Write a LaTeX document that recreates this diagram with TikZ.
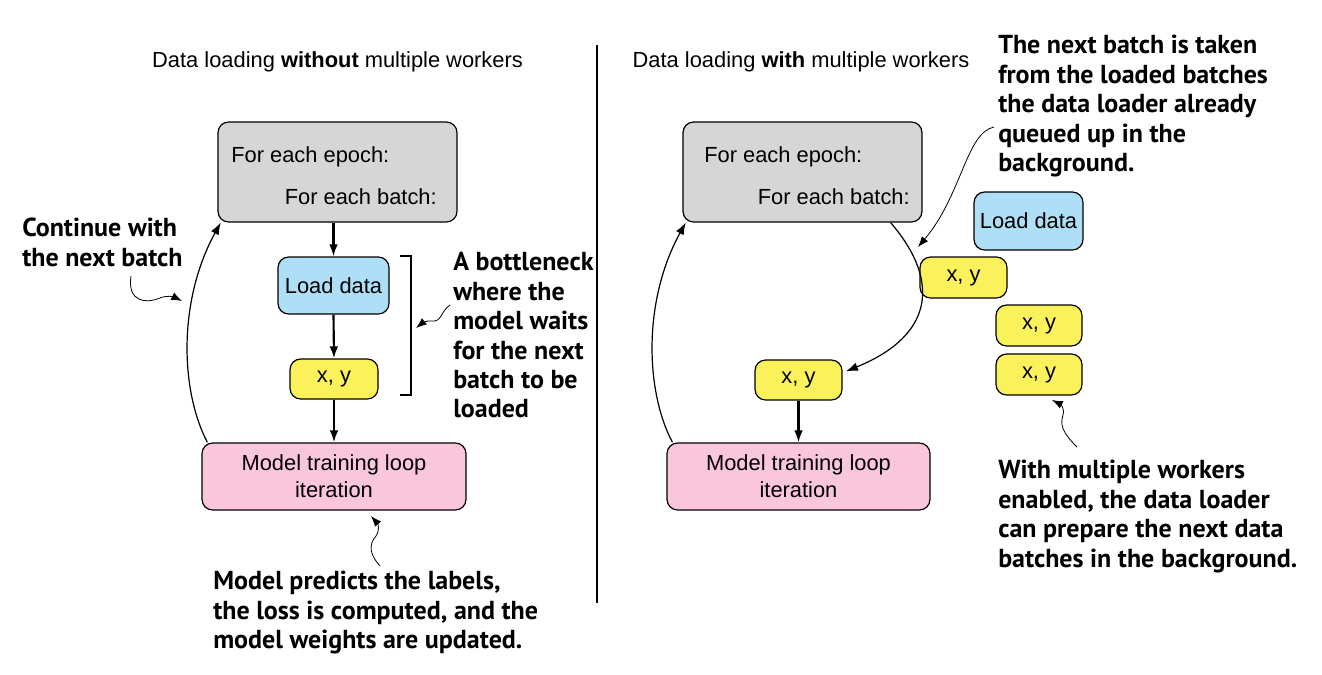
\documentclass[tikz,border=0pt]{standalone}
\usepackage{fontspec}
\setmainfont{Liberation Sans}
\newfontfamily\annotfont{PT Sans}
\usetikzlibrary{arrows.meta}
\definecolor{grayfill}{HTML}{D7D6D6}
\definecolor{bluefill}{HTML}{AEDFF7}
\definecolor{yelfill}{HTML}{FBF15B}
\definecolor{pinkfill}{HTML}{F9C6DC}
\begin{document}
\begin{tikzpicture}[x=0.75pt,y=-0.75pt,
  box/.style={draw=black, line width=0.9pt, rounded corners=8pt, inner sep=0pt, align=center,
    font=\fontsize{16.4}{20}\selectfont},
  lbl/.style={inner sep=0pt, font=\fontsize{16.4}{20}\selectfont},
  ann/.style={inner sep=0pt, align=left, anchor=north west,
    font=\annotfont\bfseries\fontsize{19.5}{22.1}\selectfont},
  mainarrow/.style={-{Latex[length=9pt,width=6.5pt]}, line width=1.6pt},
  looparrow/.style={-{Latex[length=9pt,width=6.5pt]}, line width=0.9pt},
  notearrow/.style={-{Latex[length=8pt,width=6pt]}, line width=0.6pt}]
\useasboundingbox (0,0) rectangle (1322,675);

% ---------- left panel ----------
\node[lbl] (t1) at (337.5,62) {Data loading \textbf{without} multiple workers};
\node[box, fill=grayfill, minimum width=179.25pt, minimum height=75pt] (g1) at (337.5,172) {};
\node[lbl, anchor=west] (g1a) at (231,157) {For each epoch:};
\node[lbl, anchor=east] (g1b) at (437,197) {For each batch:};
\node[box, fill=bluefill, minimum width=83.25pt, minimum height=42.75pt] (ld1) at (333.5,285.5) {Load data};
\node[box, fill=yelfill, minimum width=66pt, minimum height=30pt] (xy1) at (334,379) {x, y};
\node[box, fill=pinkfill, minimum width=198pt, minimum height=50.25pt] (m1) at (334,476.5) {Model training loop\\iteration};

\draw[mainarrow] (ld1.north |- g1.south) -- (ld1.north);
\draw[mainarrow] (ld1.south) -- (xy1.north);
\draw[mainarrow] (xy1.south) -- (m1.north);
\draw[looparrow] ([xshift=4.5pt]m1.north west) .. controls (180,390) and (178,300) .. ([xshift=2.5pt]g1.south west);

\draw[line width=1.6pt] (400,256) -- (411,256) -- (411,395) -- (400,395);

\node[ann] (a1) at (22,218) {Continue with\\the next batch};
\coordinate (a1s) at (131,276);
\coordinate (a1e) at (182,301);
\draw[notearrow] (a1s) .. controls (127,302) and (146,304) .. (160,298) .. controls (167,295) and (174,297) .. (a1e);

\node[ann] (a2) at (453,252) {A bottleneck\\where the\\model waits\\for the next\\batch to be\\loaded};
\coordinate (a2s) at (450,305);
\coordinate (a2e) at (416,328);
\draw[notearrow] (a2s) .. controls (440,312) and (442,322) .. (432,321) .. controls (426,320) and (421,324) .. (a2e);

\node[ann] (a3) at (213,571) {Model predicts the labels,\\the loss is computed, and the\\model weights are updated.};
\coordinate (a3s) at (380,566);
\coordinate (a3e) at (371,516);
\draw[notearrow] (a3s) .. controls (370,555) and (368,545) .. (376,536) .. controls (380,530) and (378,524) .. (a3e);

% divider
\draw[line width=1.5pt] (597,45) -- (597,603);

% ---------- right panel ----------
\node[lbl] (t2) at (801,62) {Data loading \textbf{with} multiple workers};
\node[box, fill=grayfill, minimum width=179.25pt, minimum height=75pt] (g2) at (802.5,172) {};
\node[lbl, anchor=west] (g2a) at (704,157) {For each epoch:};
\node[lbl, anchor=east] (g2b) at (910,197) {For each batch:};
\node[box, fill=bluefill, minimum width=81.75pt, minimum height=43.5pt] (ld2) at (1028.5,221) {Load data};
\node[box, fill=yelfill, minimum width=65.25pt, minimum height=30.75pt] (q1) at (963.5,277.5) {x, y};
\node[box, fill=yelfill, minimum width=64.5pt, minimum height=30.75pt] (q2) at (1039,325.5) {x, y};
\node[box, fill=yelfill, minimum width=64.5pt, minimum height=30.75pt] (q3) at (1039,374.5) {x, y};
\node[box, fill=yelfill, minimum width=65.25pt, minimum height=30pt] (xy2) at (798.5,380) {x, y};
\node[box, fill=pinkfill, minimum width=197.25pt, minimum height=50.25pt] (m2) at (798.5,476.5) {Model training loop\\iteration};

\draw[mainarrow] (xy2.south) -- (m2.north);
\draw[looparrow] ([xshift=4.5pt]m2.north west) .. controls (645,390) and (643,300) .. ([xshift=2.5pt]g2.south west);
\draw[looparrow] ([xshift=-24pt]g2.south east) .. controls (940,280) and (935,335) .. ([xshift=2.5pt,yshift=6.5pt]xy2.east);

\node[ann] (a4) at (998,35) {The next batch is taken\\from the loaded batches\\the data loader already\\queued up in the\\background.};
\coordinate (a4s) at (994,127);
\coordinate (a4e) at (918,247);
\draw[notearrow] (a4s) .. controls (966,133) and (962,195) .. (a4e);

\node[ann] (a5) at (998,460) {With multiple workers\\enabled, the data loader\\can prepare the next data\\batches in the background.};
\coordinate (a5s) at (1077,447);
\coordinate (a5e) at (1052,400);
\draw[notearrow] (a5s) .. controls (1062,432) and (1060,425) .. (1063,415) .. controls (1065,408) and (1060,404) .. (a5e);
\end{tikzpicture}
\end{document}
